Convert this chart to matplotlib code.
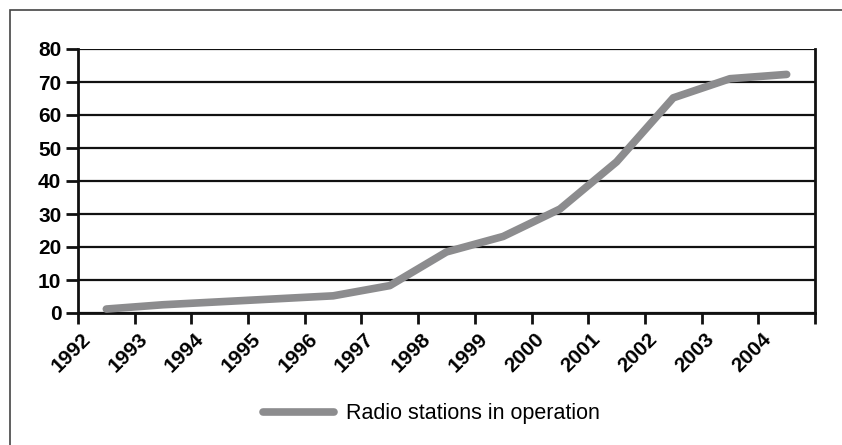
import matplotlib
matplotlib.use("Agg")
import matplotlib.pyplot as plt
from matplotlib.patches import Rectangle
from matplotlib.lines import Line2D

years = ["1992", "1993", "1994", "1995", "1996", "1997", "1998",
         "1999", "2000", "2001", "2002", "2003", "2004"]
stations = [1.2, 2.5, 3.4, 4.3, 5.2, 8.3, 18.5, 23.2, 31.5, 45.8, 65.2, 71.0, 72.3]
yticks = [0, 10, 20, 30, 40, 50, 60, 70, 80]

plt.rcParams['font.family'] = ['Liberation Sans', 'DejaVu Sans']

fig = plt.figure(figsize=(8.42, 4.45), dpi=100)
fig.patches.append(Rectangle((10/842, -0.2), 1.2, 1 - 10/445 + 0.2,
                             transform=fig.transFigure, fill=False,
                             edgecolor='#444444', linewidth=1.2))

ax = fig.add_axes([78/842, 1 - 313/445, (815 - 78)/842, (313 - 49)/445])

n = len(years)
xs = [i + 0.5 for i in range(n)]
line, = ax.plot(xs, stations, color='#8c8c8e', linewidth=5.5,
                solid_capstyle='round', solid_joinstyle='round', zorder=3)

ax.set_xlim(0, n)
ax.set_ylim(0, 80)
ax.set_yticks(yticks)
ax.set_yticklabels([str(v) for v in yticks], fontsize=15, fontweight='bold')
ax.yaxis.grid(True, color='#111111', linewidth=1.6)
ax.set_axisbelow(True)

ax.set_xticks(range(n + 1))
ax.set_xticklabels([])
ax.set_xticks([i + 0.05 for i in range(n)], minor=True)
ax.set_xticklabels(years, minor=True, fontsize=15, fontweight='bold',
                   rotation=45, ha='right', va='top', rotation_mode='anchor')
ax.tick_params(axis='x', which='minor', length=0, pad=12)
ax.tick_params(axis='x', which='major', length=8, width=2, color='#111111')
ax.tick_params(axis='y', length=9, width=2, color='#111111', pad=3)

for s in ['left', 'bottom', 'right']:
    ax.spines[s].set_linewidth(2)
    ax.spines[s].set_color('#111111')
ax.spines['top'].set_visible(False)

handle = Line2D([], [], color='#8c8c8e', linewidth=5.5, solid_capstyle='round')
fig.legend([handle], ['Radio stations in operation'], loc='center',
           bbox_to_anchor=(431/842, 1 - 414/445), frameon=False,
           fontsize=15.5, handlelength=3.3, handletextpad=0.55)

fig.savefig('out.png', dpi=100)
